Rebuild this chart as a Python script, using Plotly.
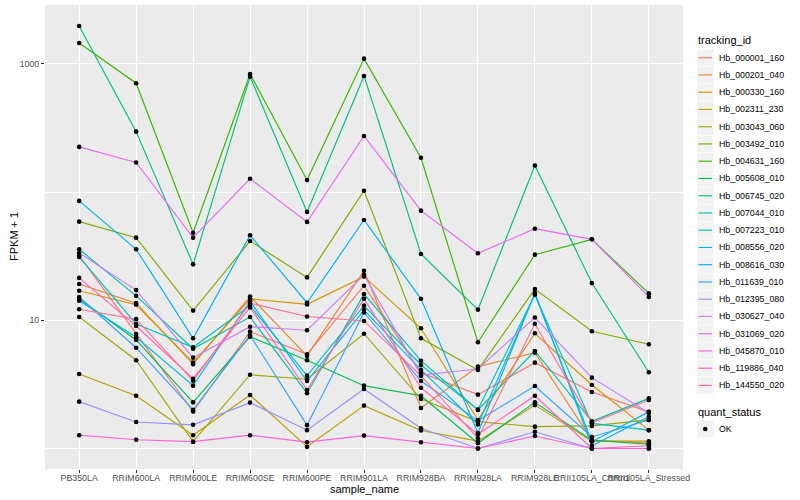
import plotly.graph_objects as go

samples = ["PB350LA", "RRIM600LA", "RRIM600LE", "RRIM600SE", "RRIM600PE", "RRIM901LA",
           "RRIM928BA", "RRIM928LA", "RRIM928LE", "RRII105LA_Control", "RRII105LA_Stressed"]

tracking_ids = ["Hb_000001_160", "Hb_000201_040", "Hb_000330_160", "Hb_002311_230",
                "Hb_003043_060", "Hb_003492_010", "Hb_004631_160", "Hb_005608_010",
                "Hb_006745_020", "Hb_007044_010", "Hb_007223_010", "Hb_008556_020",
                "Hb_008616_030", "Hb_011639_010", "Hb_012395_080", "Hb_030627_040",
                "Hb_031069_020", "Hb_045870_010", "Hb_119886_040", "Hb_144550_020"]

colors = ["#F8766D", "#EA8331", "#D89000", "#C09B00", "#A3A500", "#7CAE00", "#39B600",
          "#00BB4E", "#00BF7D", "#00C1A3", "#00BFC4", "#00BAE0", "#00B0F6", "#35A2FF",
          "#9590FF", "#C77CFF", "#E76BF3", "#FA62DB", "#FF62BC", "#FF6C91"]

# FPKM + 1 values per sample
Hb_000001_160 = [31.9, 7.82, 1.94, 8.15, 5.43, 18.6, 3.90, 2.63, 4.67, 2.76, 1.93]
Hb_000201_040 = [19.2, 13.6, 4.54, 15.3, 5.27, 24.3, 2.07, 4.35, 5.59, 1.16, 1.10]
Hb_000330_160 = [17.0, 13.2, 4.67, 14.7, 13.3, 21.9, 8.66, 1.67, 7.92, 3.13, 1.39]
Hb_002311_230 = [3.81, 2.58, 1.27, 2.61, 1.03, 2.16, 1.38, 1.14, 2.18, 1.14, 1.14]
Hb_003043_060 = [10.6, 4.88, 1.13, 3.76, 3.47, 7.86, 2.43, 1.62, 1.48, 1.50, 1.67]
Hb_003492_010 = [58.8, 44.1, 11.9, 41.5, 21.6, 102.5, 7.24, 4.10, 17.5, 8.21, 6.50]
Hb_004631_160 = [1455, 706, 48.2, 834, 124, 1098, 185, 6.74, 32.5, 42.8, 16.2]
Hb_005608_010 = [14.7, 7.02, 2.29, 7.45, 4.88, 3.09, 2.58, 1.10, 2.29, 1.16, 1.08]
Hb_006745_020 = [1976, 296, 27.3, 794, 70.0, 805, 32.9, 12.1, 161, 19.5, 3.93]
Hb_007044_010 = [35.8, 15.5, 6.00, 10.6, 2.70, 16.0, 4.84, 2.00, 5.76, 1.63, 2.46]
Hb_007223_010 = [31.2, 9.36, 6.16, 13.0, 3.70, 13.0, 4.48, 2.01, 15.8, 1.57, 1.39]
Hb_008556_020 = [14.2, 7.37, 3.09, 14.1, 3.36, 12.0, 4.10, 1.54, 16.0, 1.13, 1.93]
Hb_008616_030 = [85.3, 35.8, 7.24, 46.0, 13.7, 60.6, 14.7, 1.32, 16.3, 1.05, 1.77]
Hb_011639_010 = [15.2, 6.11, 2.00, 7.64, 1.52, 11.5, 3.36, 1.65, 3.07, 1.23, 1.67]
Hb_012395_080 = [2.32, 1.61, 1.53, 2.28, 1.39, 2.91, 1.44, 1.00, 1.35, 1.00, 1.00]
Hb_030627_040 = [33.5, 17.2, 5.11, 8.91, 8.36, 22.6, 3.74, 4.17, 10.5, 3.57, 1.89]
Hb_031069_020 = [225, 170, 44.1, 127, 58.5, 274, 71.6, 33.3, 51.8, 42.8, 15.2]
Hb_045870_010 = [1.27, 1.17, 1.13, 1.27, 1.12, 1.26, 1.12, 1.00, 1.25, 1.00, 1.00]
Hb_119886_040 = [21.4, 9.03, 3.50, 12.6, 2.86, 14.7, 2.98, 1.29, 2.58, 1.00, 1.05]
Hb_144550_020 = [12.2, 10.2, 3.38, 13.6, 10.7, 9.88, 3.68, 1.20, 9.40, 1.59, 2.39]

series = [Hb_000001_160, Hb_000201_040, Hb_000330_160, Hb_002311_230, Hb_003043_060,
          Hb_003492_010, Hb_004631_160, Hb_005608_010, Hb_006745_020, Hb_007044_010,
          Hb_007223_010, Hb_008556_020, Hb_008616_030, Hb_011639_010, Hb_012395_080,
          Hb_030627_040, Hb_031069_020, Hb_045870_010, Hb_119886_040, Hb_144550_020]

y_ticks = [10, 1000]
y_minor = [1, 100]

W, H = 800, 500
PL, PR, PT, PB = 45, 683, 5, 469  # panel pixel box


def px(x):
    return (x - PL) / (PR - PL)


def py(y):
    return (PB - y) / (PB - PT)


FONT = "Liberation Sans, Arial, Helvetica, sans-serif"
fig = go.Figure()

for name, vals, col in zip(tracking_ids, series, colors):
    fig.add_trace(go.Scatter(x=samples, y=vals, mode="lines", name=name,
                             line=dict(color=col, width=1.15), showlegend=False,
                             hoverinfo="skip"))

all_x, all_y = [], []
for vals in series:
    all_x += samples
    all_y += vals
fig.add_trace(go.Scatter(x=all_x, y=all_y, mode="markers", showlegend=False,
                         marker=dict(color="black", size=4.6, line=dict(width=0)),
                         hoverinfo="skip"))

shapes = []
annotations = []

# legend: tracking_id
annotations.append(dict(xref="paper", yref="paper", x=px(696), y=py(40.5), text="tracking_id",
                        showarrow=False, xanchor="left", yanchor="middle",
                        font=dict(family=FONT, size=11, color="black")))
for i, (name, col) in enumerate(zip(tracking_ids, colors)):
    c = 57.7 + 17.25 * i
    shapes.append(dict(type="rect", xref="paper", yref="paper",
                       x0=px(697), x1=px(713.5), y0=py(c + 8.3), y1=py(c - 8.3),
                       fillcolor="#F2F2F2", line=dict(width=0), layer="above"))
    shapes.append(dict(type="line", xref="paper", yref="paper",
                       x0=px(698.5), x1=px(712), y0=py(c), y1=py(c),
                       line=dict(color=col, width=1.15), layer="above"))
    annotations.append(dict(xref="paper", yref="paper", x=px(716.5), y=py(c), text=name,
                            showarrow=False, xanchor="left", yanchor="middle",
                            font=dict(family=FONT, size=8.8, color="black")))

# legend: quant_status
annotations.append(dict(xref="paper", yref="paper", x=px(696), y=py(412.3), text="quant_status",
                        showarrow=False, xanchor="left", yanchor="middle",
                        font=dict(family=FONT, size=11, color="black")))
shapes.append(dict(type="rect", xref="paper", yref="paper",
                   x0=px(697), x1=px(713.5), y0=py(437.3), y1=py(420.7),
                   fillcolor="#F2F2F2", line=dict(width=0), layer="above"))
shapes.append(dict(type="circle", xref="paper", yref="paper",
                   x0=px(703), x1=px(707.5), y0=py(431.2), y1=py(426.8),
                   fillcolor="black", line=dict(width=0), layer="above"))
annotations.append(dict(xref="paper", yref="paper", x=px(716.5), y=py(429), text="OK",
                        showarrow=False, xanchor="left", yanchor="middle",
                        font=dict(family=FONT, size=8.8, color="black")))

# axis titles
annotations.append(dict(xref="paper", yref="paper", x=0.5, y=py(489), text="sample_name",
                        showarrow=False, xanchor="center", yanchor="middle",
                        font=dict(family=FONT, size=11, color="black")))
annotations.append(dict(xref="paper", yref="paper", x=px(14), y=0.5, text="FPKM + 1",
                        showarrow=False, xanchor="center", yanchor="middle", textangle=-90,
                        font=dict(family=FONT, size=11, color="black")))

fig.update_layout(
    width=W, height=H,
    margin=dict(l=PL, r=W - PR, t=PT, b=H - PB),
    paper_bgcolor="white", plot_bgcolor="#EBEBEB",
    font=dict(family=FONT),
    shapes=shapes, annotations=annotations,
    xaxis=dict(type="category", categoryorder="array", categoryarray=samples,
               range=[-0.6, len(samples) - 0.4], showgrid=True, gridcolor="white",
               gridwidth=1.1, zeroline=False, showline=False, ticks="outside",
               ticklen=3, tickwidth=1, tickcolor="#333333", tickangle=0,
               ticklabelstandoff=-3,
               tickfont=dict(family=FONT, size=8.8, color="#4D4D4D")),
    yaxis=dict(type="log", range=[-0.16, 3.459], tickvals=y_ticks,
               ticktext=[str(v) for v in y_ticks], showgrid=True, gridcolor="white",
               gridwidth=1.1, zeroline=False, showline=False, ticks="outside",
               ticklen=3, tickwidth=1, tickcolor="#333333",
               tickfont=dict(family=FONT, size=8.8, color="#4D4D4D"),
               minor=dict(tickmode="array", tickvals=y_minor, showgrid=True,
                          gridcolor="white", gridwidth=0.55, ticks="")),
    hovermode=False,
)

fig.write_html("out.html", config={"displayModeBar": False},
               post_script="document.body.style.margin='0px';document.body.style.overflow='hidden';")
